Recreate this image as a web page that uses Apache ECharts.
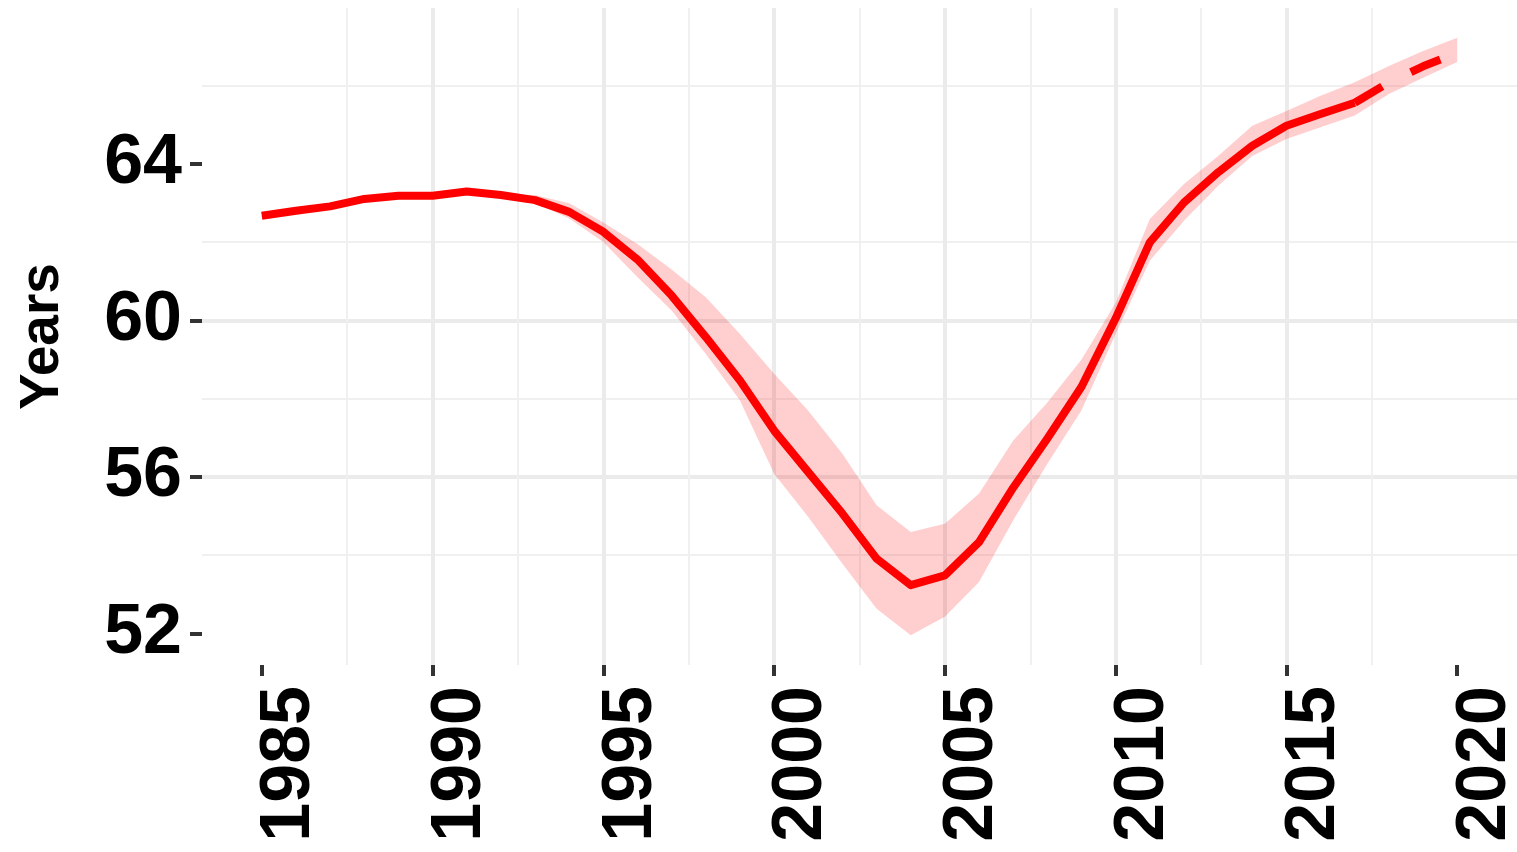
<!DOCTYPE html>
<html>
<head>
<meta charset="utf-8">
<script src="https://cdn.jsdelivr.net/npm/echarts@6/dist/echarts.min.js"></script>
<style>
html,body{margin:0;padding:0;background:#fff;}
#chart{width:1517px;height:852px;}
</style>
</head>
<body>
<div id="chart"></div>
<script>
var years = [1985,1986,1987,1988,1989,1990,1991,1992,1993,1994,1995,1996,1997,1998,1999,2000,2001,2002,2003,2004,2005,2006,2007,2008,2009,2010,2011,2012,2013,2014,2015,2016,2017,2018,2019,2020];
var meanValues = [62.67,62.8,62.91,63.1,63.18,63.18,63.29,63.2,63.07,62.77,62.26,61.55,60.63,59.57,58.46,57.18,56.12,55.06,53.91,53.23,53.48,54.33,55.72,56.98,58.3,60.05,61.99,63.01,63.78,64.46,64.97,65.27,65.56,66.08,66.49,66.83];
var lowerValues = [62.67,62.8,62.91,63.1,63.18,63.18,63.29,63.2,63.0,62.6,62.0,61.1,60.25,59.14,57.95,56.08,54.97,53.78,52.63,51.95,52.42,53.31,54.89,56.33,57.7,59.65,61.52,62.54,63.44,64.2,64.63,64.93,65.23,65.78,66.2,66.6];
var upperValues = [62.67,62.8,62.91,63.1,63.18,63.18,63.29,63.22,63.2,62.99,62.5,61.95,61.3,60.59,59.65,58.63,57.69,56.59,55.27,54.59,54.8,55.57,56.93,57.9,59.0,60.45,62.59,63.48,64.2,64.97,65.35,65.74,66.08,66.5,66.88,67.22];
var xTickLabels = [1985,1990,1995,2000,2005,2010,2015,2020];
var yTickLabels = [52,56,60,64];
var projectionStart = 2017;
var yAxisTitle = 'Years';

var X_MIN = 1983.25, X_MAX = 2021.75, Y_MIN = 51.19, Y_MAX = 67.98;

var bandData = years.map(function(y,i){return [y, lowerValues[i], upperValues[i]];});
var solidData = [], dashData = [];
years.forEach(function(y,i){
  if (y <= projectionStart) solidData.push([y, meanValues[i]]);
  if (y >= projectionStart) dashData.push([y, meanValues[i]]);
});

var FONT = '"Liberation Sans", Arial, sans-serif';
var majorGrid = {show:true, showMinLine:false, showMaxLine:false, lineStyle:{color:'#EBEBEB', width:4}};
var minorGridStyle = {show:true, showMinLine:false, showMaxLine:false, lineStyle:{color:'#F0F0F0', width:2}};
function plain(v){ return String(Math.round(v)); }

function renderBand(params, api){
  if (params.dataIndex !== 0) return null;
  var n = bandData.length, pts = [], i;
  for (i = 0; i < n; i++) pts.push(api.coord([bandData[i][0], bandData[i][2]]));
  for (i = n - 1; i >= 0; i--) pts.push(api.coord([bandData[i][0], bandData[i][1]]));
  return {type:'polygon', shape:{points:pts}, style:{fill:'rgba(255,0,0,0.19)', stroke:null}, silent:true};
}

var chart = echarts.init(document.getElementById('chart'), null, {renderer:'canvas'});
chart.setOption({
  animation:false,
  backgroundColor:'#ffffff',
  grid:{left:202, right:0, top:8, bottom:187, containLabel:false, outerBoundsMode:'none'},
  xAxis:[
    {type:'value', gridIndex:0, position:'bottom', min:X_MIN - 2.5, max:X_MAX - 2.5, minInterval:5, maxInterval:5,
     axisLine:{show:false}, axisTick:{show:false}, axisLabel:{show:false}, splitLine:minorGridStyle},
    {type:'value', gridIndex:0, position:'bottom', offset:0, min:X_MIN, max:X_MAX, minInterval:5, maxInterval:5,
     axisLine:{show:false},
     axisTick:{show:true, customValues:xTickLabels, length:11, lineStyle:{color:'#333333', width:4}},
     axisLabel:{show:true, customValues:xTickLabels, formatter:plain, rotate:90, margin:21, align:'right', verticalAlign:'top', lineHeight:56,
       fontFamily:FONT, fontWeight:'bold', fontSize:70, color:'#000000'},
     splitLine:majorGrid}
  ],
  yAxis:[
    {type:'value', gridIndex:0, position:'left', min:Y_MIN - 2, max:Y_MAX - 2, minInterval:4, maxInterval:4,
     axisLine:{show:false}, axisTick:{show:false}, axisLabel:{show:false}, splitLine:minorGridStyle},
    {type:'value', gridIndex:0, position:'left', offset:0, min:Y_MIN, max:Y_MAX, minInterval:4, maxInterval:4,
     name:yAxisTitle, nameLocation:'middle', nameRotate:90, nameGap:132,
     nameTextStyle:{fontFamily:FONT, fontWeight:'bold', fontSize:55, color:'#000000'},
     axisLine:{show:false},
     axisTick:{show:true, customValues:yTickLabels, length:12, lineStyle:{color:'#333333', width:4}},
     axisLabel:{show:true, customValues:yTickLabels, formatter:plain, margin:20, fontFamily:FONT, fontWeight:'bold', fontSize:70, color:'#000000'},
     splitLine:majorGrid}
  ],
  series:[
    {type:'custom', xAxisIndex:1, yAxisIndex:1, data:bandData, renderItem:renderBand, encode:{x:0, y:[1,2]}, silent:true, clip:true},
    {type:'line', xAxisIndex:1, yAxisIndex:1, data:solidData, symbol:'none', lineStyle:{color:'#FF0000', width:8, join:'round'}},
    {type:'line', xAxisIndex:1, yAxisIndex:1, data:dashData, symbol:'none', lineStyle:{color:'#FF0000', width:8, type:[32,32], cap:'butt'}}
  ]
});
</script>
</body>
</html>
